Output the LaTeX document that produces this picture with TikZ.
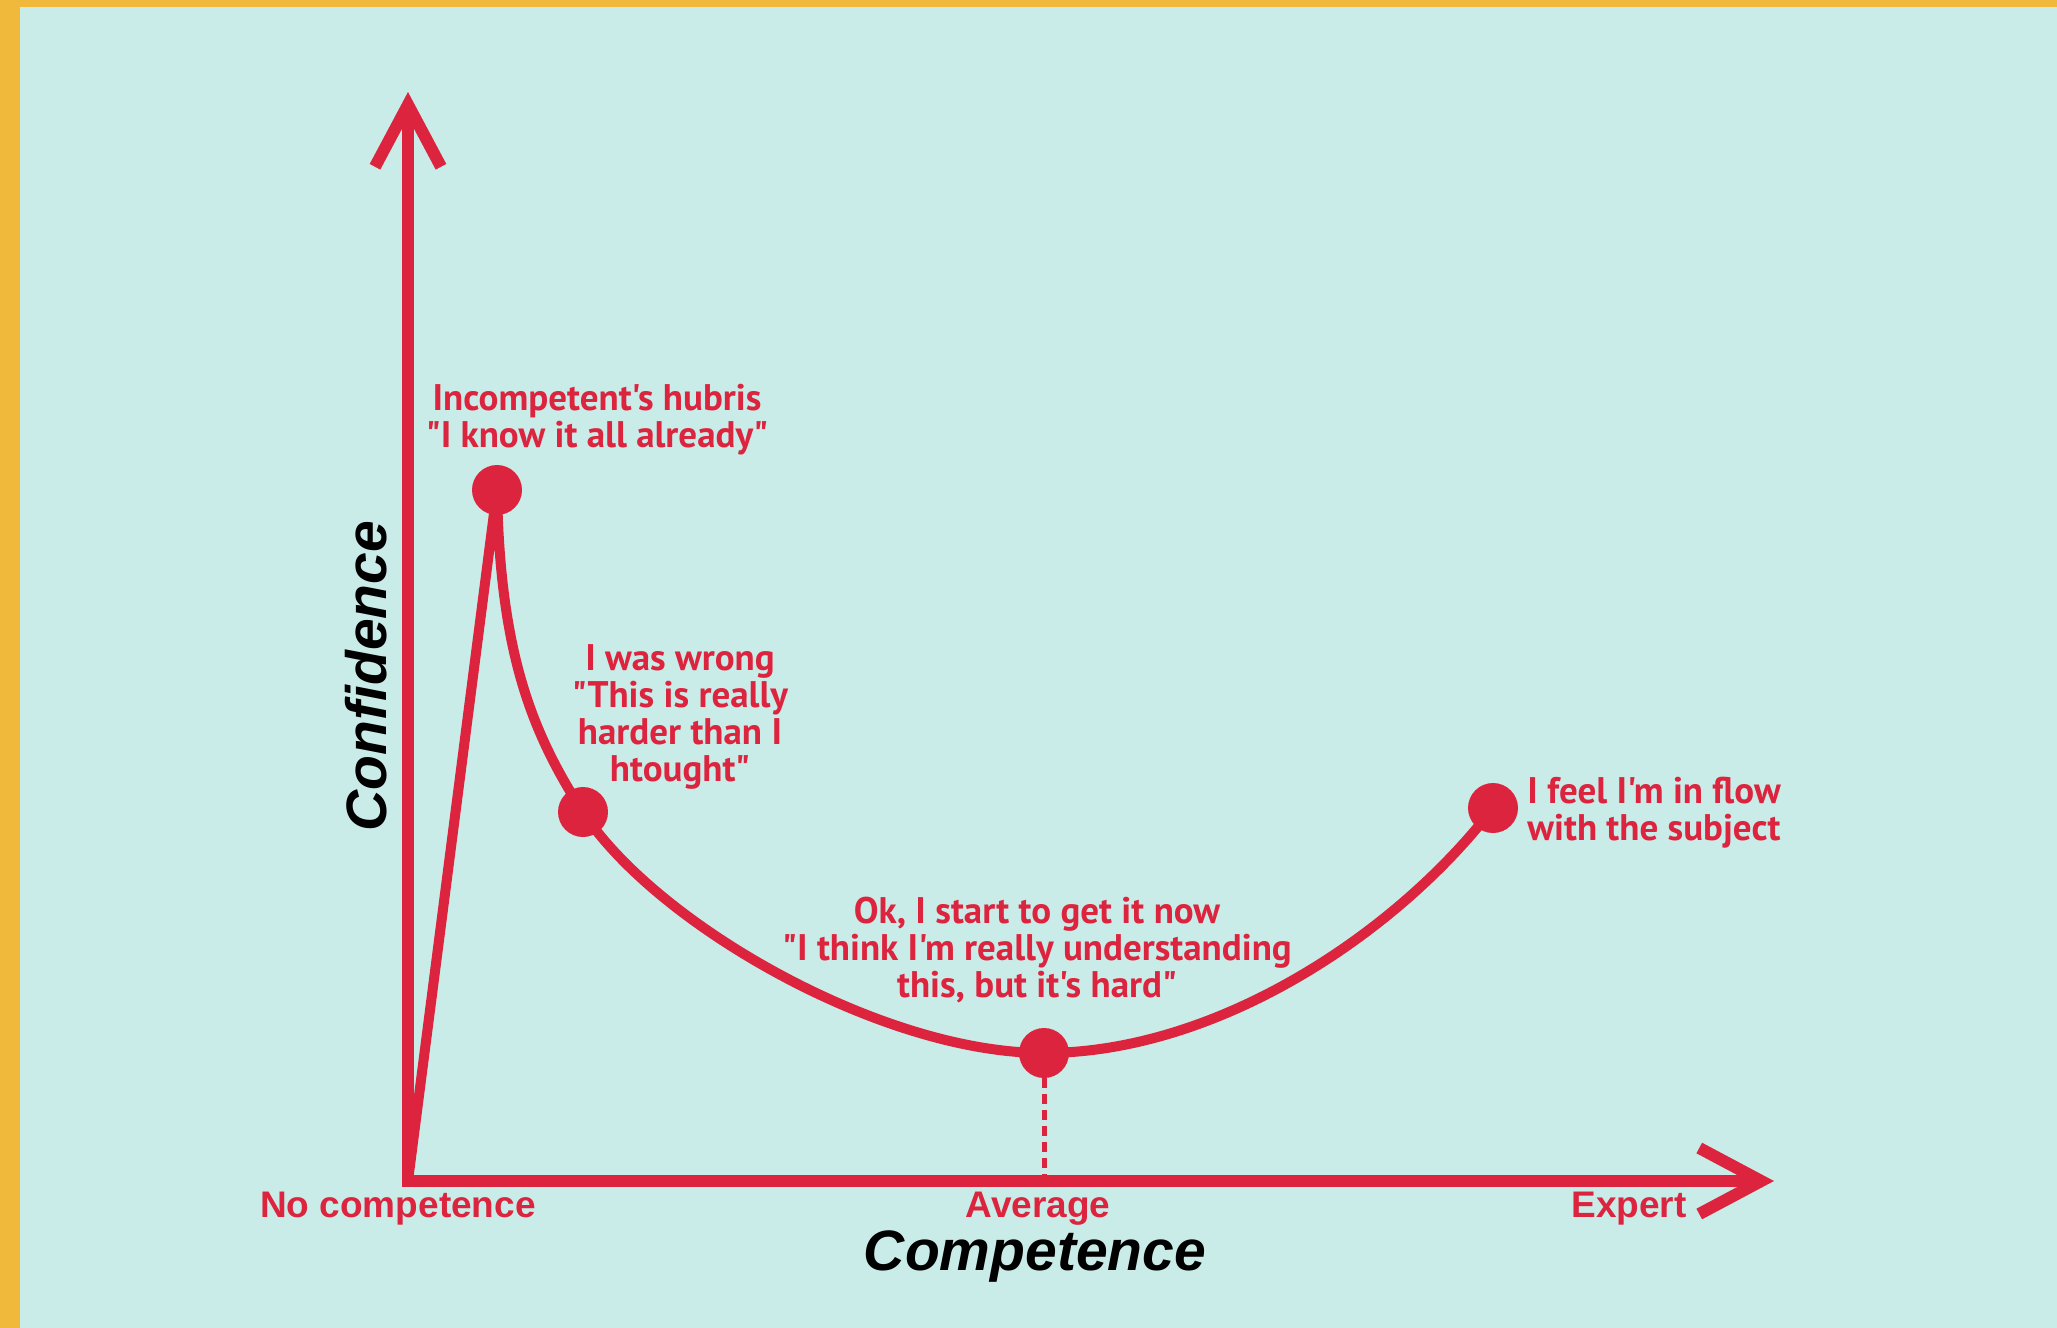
\documentclass[tikz,border=0pt]{standalone}
\usepackage{fontspec}
\newfontfamily\ptsans{PT Sans}
\newfontfamily\arial{Liberation Sans}
\usetikzlibrary{arrows.meta}

\definecolor{curvered}{HTML}{DD243E}
\definecolor{paleteal}{HTML}{CAECE9}
\definecolor{mustard}{HTML}{F0B93C}

\tikzset{
	axisline/.style={curvered, line width=12pt, line cap=rect, -{Straight Barb[length=62pt, width=66pt]}},
	curveline/.style={curvered, line width=10pt, line join=round},
	stagedot/.style={circle, fill=curvered, inner sep=0pt, minimum size=50pt},
	stage/.style={text=curvered, align=center, inner sep=0pt, anchor=base, font=\ptsans\bfseries\fontsize{37}{37}\selectfont},
	level/.style={text=curvered, inner sep=0pt, anchor=base, font=\arial\bfseries\fontsize{37}{40}\selectfont},
	axistitle/.style={text=black, inner sep=0pt, anchor=base, font=\arial\bfseries\itshape\fontsize{57}{60}\selectfont},
}

\begin{document}
\begin{tikzpicture}[x=1pt, y=-1pt]
		\fill [mustard]		(0, 0) rectangle (2057, 1328);
		\fill [paleteal]	(20, 7) rectangle (2057, 1328);
		\useasboundingbox	(0, 0) rectangle (2057, 1328);

		\coordinate (origin)	at (408, 1181);
		\coordinate (ytip)		at (408, 92);
		\coordinate (xtip)		at (1774, 1181);
		\coordinate (avgmark)	at (1044, 1176);

		\draw [axisline]	(origin) to (ytip);
		\draw [axisline]	(origin) to (xtip);

		\node [stagedot] (peak)	at (497, 490) {};
		\node [stagedot] (fall)	at (583, 812) {};
		\node [stagedot] (dip)	at (1044, 1053) {};
		\node [stagedot] (flow)	at (1493, 808) {};

		\draw [curveline]	(origin) -- (peak.center)
							.. controls (500, 650) and (530, 730) .. (fall.center)
							.. controls (655, 923) and (880, 1053) .. (dip.center)
							.. controls (1220, 1053) and (1400, 930) .. (flow.center);

		\draw [curvered, line width=5pt, dash pattern=on 10pt off 6pt]	(dip.south) to (avgmark);

		\node [stage] (hubris)		at (597, 447)	{Incompetent's hubris\\"I know it all already"};
		\node [stage] (wrong)		at (680, 781)	{I was wrong\\"This is really\\harder than I\\htought"};
		\node [stage] (gettingit)	at (1037, 997)	{Ok, I start to get it now\\"I think I'm really understanding\\this, but it's hard"};
		\node [stage] (inflow)		at (1654, 840)	{I feel I'm in flow\\with the subject};

		\node [level] (nocomp)		at (398, 1217)	{No competence};
		\node [level] (average)		at (1038, 1217)	{Average};
		\node [level] (expert)		at (1629, 1217)	{Expert};

		\node [axistitle] (xtitle)					at (1035, 1270)	{Competence};
		\node [axistitle, rotate=90] (ytitle)		at (386, 676)	{Confidence};
	\end{tikzpicture}
\end{document}
